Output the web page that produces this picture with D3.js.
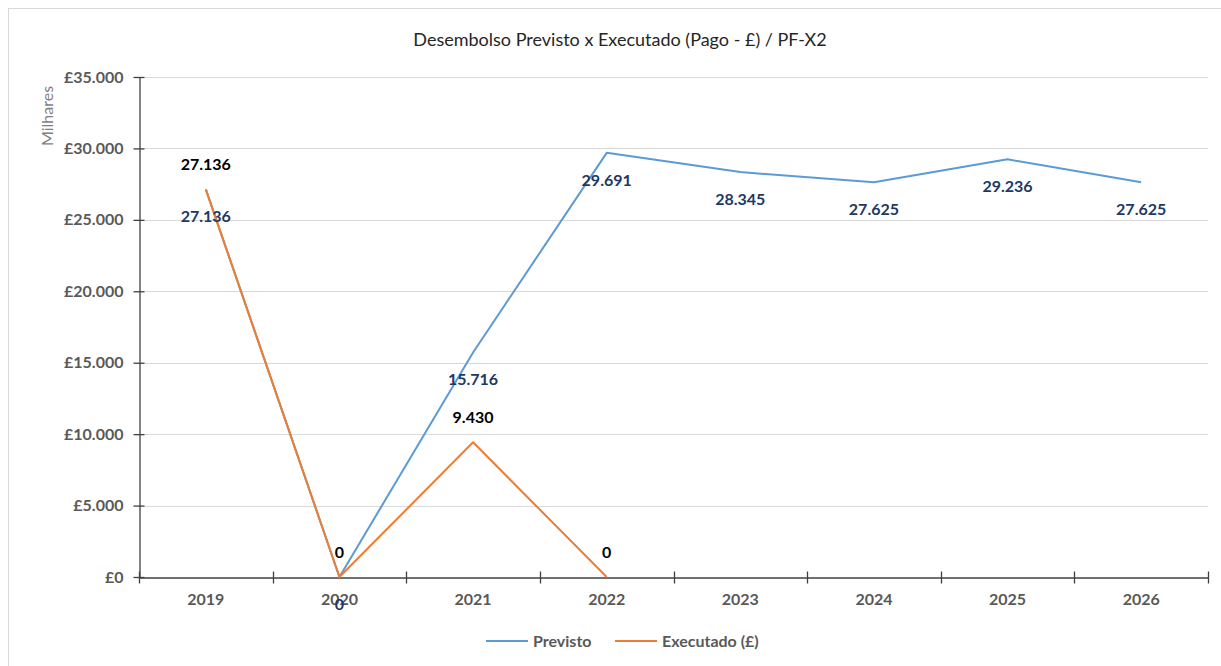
<!DOCTYPE html>
<html><head><meta charset="utf-8">
<script src="https://cdn.jsdelivr.net/npm/d3@7"></script>
<style>body{margin:0;background:#fff}svg{display:block}</style>
</head><body>
<script>
const years = ["2019","2020","2021","2022","2023","2024","2025","2026"];
const previsto = [27136, 0, 15716, 29691, 28345, 27625, 29236, 27625];
const executado = [27136, 0, 9430, 0];
const yTicks = [0, 5000, 10000, 15000, 20000, 25000, 30000, 35000];
const seriesNames = ["Previsto", "Executado (£)"];
const title = "Desembolso Previsto x Executado (Pago - £) / PF-X2";
const yAxisTitle = "Milhares";

const W = 1221, H = 666;
const m = {left: 139, right: 1208, top: 77, bottom: 577};
const font = "Lato, 'Open Sans', sans-serif";
const colPrev = "#5B9BD5", colExec = "#ED7D31";

const svg = d3.select("body").append("svg").attr("width", W).attr("height", H);
svg.append("rect").attr("x", 8.5).attr("y", 8.5).attr("width", 1300).attr("height", 700)
  .attr("fill", "#fff").attr("stroke", "#d9d9d9");

const x = d3.scaleBand().domain(years).range([m.left, m.right]).paddingInner(0).paddingOuter(0);
const y = d3.scaleLinear().domain([0, 35000]).range([m.bottom, m.top]);
const cx = d => x(d) + x.bandwidth() / 2;

// gridlines
svg.append("g").selectAll("line").data(yTicks.filter(t => t > 0)).join("line")
  .attr("x1", m.left).attr("x2", m.right)
  .attr("y1", d => Math.round(y(d)) + 0.5).attr("y2", d => Math.round(y(d)) + 0.5)
  .attr("stroke", "#d9d9d9").attr("stroke-width", 1);

// y axis
const fmt = v => "£" + d3.format(",")(v).replace(/,/g, ".");
const yAxis = svg.append("g").attr("transform", `translate(${m.left + 0.5},0)`)
  .call(d3.axisLeft(y).tickValues(yTicks).tickFormat(fmt).tickSizeInner(6).tickSizeOuter(0).tickPadding(8));
yAxis.select(".domain").attr("stroke", "#404040").attr("stroke-width", 1.3);
yAxis.selectAll(".tick line").attr("stroke", "#404040").attr("x2", -6).attr("x1", 5).attr("stroke-width", 1.3);
yAxis.selectAll(".tick text").attr("fill", "#595959").attr("font-family", font)
  .attr("font-size", 16).attr("font-weight", "bold").attr("x", -16);

// x axis
const xAxis = svg.append("g").attr("transform", `translate(0,${m.bottom + 0.5})`)
  .call(d3.axisBottom(x).tickSize(0).tickPadding(16));
xAxis.select(".domain").attr("stroke", "#404040").attr("stroke-width", 1.3);
xAxis.selectAll(".tick text").attr("fill", "#595959").attr("font-family", font)
  .attr("font-size", 16).attr("font-weight", "bold");
const boundaries = years.map(d => x(d)).concat([x(years[years.length - 1]) + x.bandwidth()]);
xAxis.selectAll(".bnd").data(boundaries).join("line").attr("class", "bnd")
  .attr("x1", d => Math.round(d) + 0.5).attr("x2", d => Math.round(d) + 0.5)
  .attr("y1", -6).attr("y2", 6).attr("stroke", "#404040").attr("stroke-width", 1.3);

// lines
const line = d3.line().x((d, i) => cx(years[i])).y(d => y(d));
svg.append("path").datum(previsto).attr("d", line).attr("fill", "none")
  .attr("stroke", colPrev).attr("stroke-width", 2).attr("stroke-linejoin", "round");
svg.append("path").datum(executado).attr("d", line).attr("fill", "none")
  .attr("stroke", colExec).attr("stroke-width", 2).attr("stroke-linejoin", "round");

const lblFmt = v => d3.format(",")(v).replace(/,/g, ".");
// labels
svg.append("g").selectAll("text").data(previsto).join("text")
  .attr("x", (d, i) => cx(years[i])).attr("y", d => y(d) + 33)
  .attr("text-anchor", "middle").attr("font-family", font).attr("font-size", 16)
  .attr("font-weight", "bold").attr("fill", "#203864").text(lblFmt);
svg.append("g").selectAll("text").data(executado).join("text")
  .attr("x", (d, i) => cx(years[i])).attr("y", d => y(d) - 19)
  .attr("text-anchor", "middle").attr("font-family", font).attr("font-size", 16)
  .attr("font-weight", "bold").attr("fill", "#000").text(lblFmt);

// title
svg.append("text").attr("x", 620).attr("y", 46).attr("text-anchor", "middle")
  .attr("font-family", font).attr("font-size", 18).attr("fill", "#262626").text(title);

// y axis title
svg.append("text").attr("transform", "translate(53,116) rotate(-90)").attr("text-anchor", "middle")
  .attr("font-family", font).attr("font-size", 16).attr("fill", "#7f7f7f").text(yAxisTitle);

// legend
const legX = [486, 615];
const legColors = [colPrev, colExec];
const leg = svg.append("g").selectAll("g").data(seriesNames).join("g")
  .attr("transform", (d, i) => `translate(${legX[i]},641)`);
leg.append("line").attr("x1", 0).attr("x2", 42).attr("y1", 0).attr("y2", 0)
  .attr("stroke", (d, i) => legColors[i]).attr("stroke-width", 2);
leg.append("text").attr("x", 47).attr("y", 5.5).attr("font-family", font).attr("font-size", 16)
  .attr("font-weight", "bold").attr("fill", "#595959").text(d => d);
</script>
</body></html>
